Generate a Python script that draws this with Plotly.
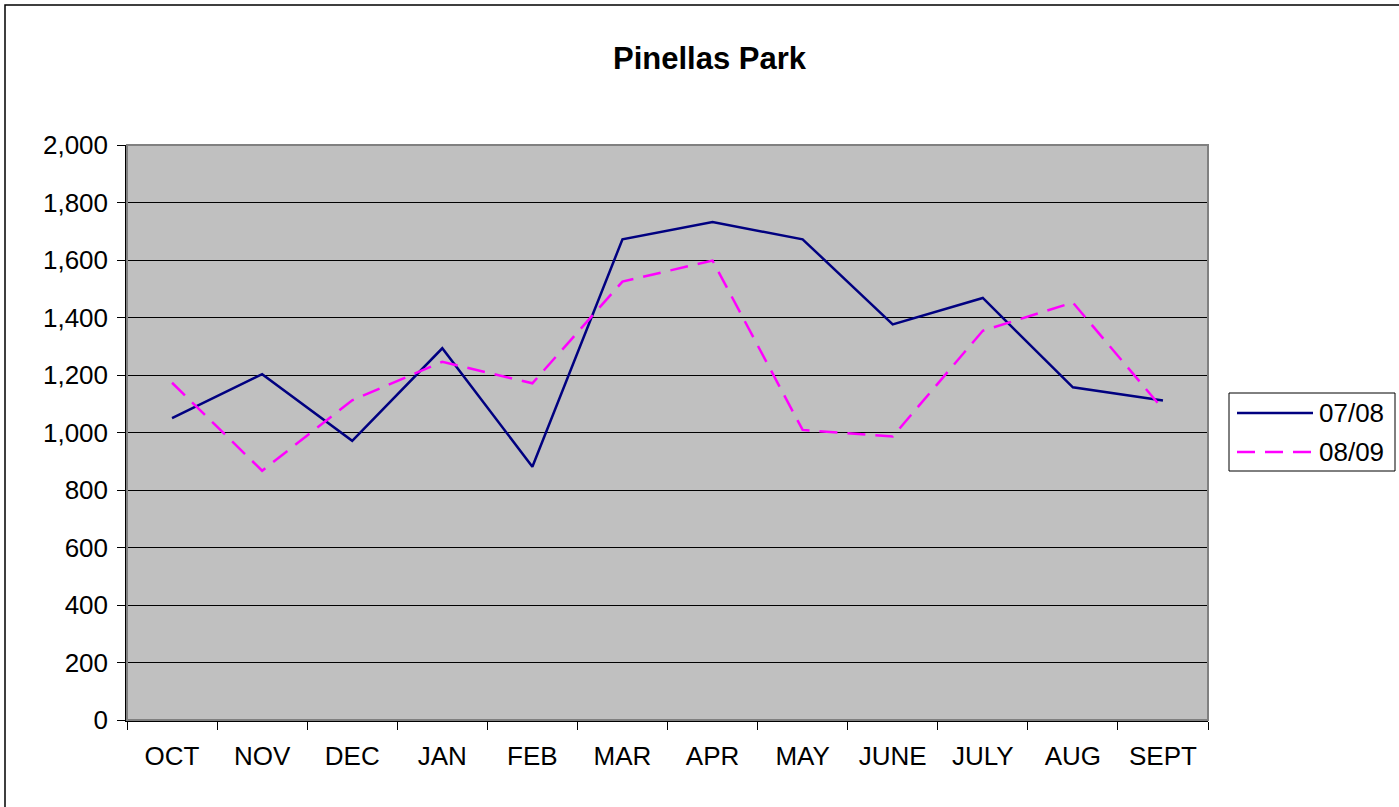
import plotly.graph_objects as go

months = ["OCT", "NOV", "DEC", "JAN", "FEB", "MAR", "APR", "MAY", "JUNE", "JULY", "AUG", "SEPT"]
series_names = ["07/08", "08/09"]
values_0708 = [1050, 1203, 971, 1293, 881, 1672, 1732, 1672, 1376, 1468, 1157, 1111]
values_0809 = [1173, 867, 1112, 1246, 1171, 1525, 1598, 1009, 986, 1354, 1452, 1081]
y_ticks = [0, 200, 400, 600, 800, 1000, 1200, 1400, 1600, 1800, 2000]

W, H = 1399, 807
L, R, T, B = 127, 1208, 145, 720
FONT = "Liberation Sans, Arial, sans-serif"

def px_x(p):
    return (p - L) / (R - L)

def px_y(p):
    return (B - p) / (B - T)

colors = ["#000080", "#FF00FF"]
dashes = ["solid", "18px,10px"]

fig = go.Figure()
for name, vals, c, d in zip(series_names, [values_0708, values_0809], colors, dashes):
    fig.add_trace(go.Scatter(x=months, y=vals, mode="lines", name=name,
                             line=dict(color=c, width=2.5, dash=d), showlegend=False))

shapes = []
# outer chart border (chart area extends past the crop)
shapes.append(dict(type="rect", xref="paper", yref="paper",
                   x0=px_x(5), x1=px_x(1440), y0=px_y(830), y1=px_y(5),
                   line=dict(color="#000000", width=1.5), layer="below"))
# plot area border
shapes.append(dict(type="rect", xref="paper", yref="paper", x0=0, x1=1, y0=0, y1=1,
                   line=dict(color="#808080", width=2), layer="above"))
# legend box
lx0, lx1, ly0, ly1 = 1229, 1395, 393, 471
shapes.append(dict(type="rect", xref="paper", yref="paper",
                   x0=px_x(lx0), x1=px_x(lx1), y0=px_y(ly1), y1=px_y(ly0),
                   line=dict(color="#000000", width=1), fillcolor="white", layer="above"))
annotations = []
for i, (name, c, d) in enumerate(zip(series_names, colors, dashes)):
    yy = 413 + i * 39
    shapes.append(dict(type="line", xref="paper", yref="paper",
                       x0=px_x(1237), x1=px_x(1313), y0=px_y(yy), y1=px_y(yy),
                       line=dict(color=c, width=2.5, dash=d), layer="above"))
    annotations.append(dict(xref="paper", yref="paper", x=px_x(1317), y=px_y(yy),
                            xanchor="left", yanchor="middle", text=name, showarrow=False,
                            font=dict(family=FONT, size=26, color="#000000")))

fig.update_layout(
    width=W, height=H,
    margin=dict(l=L, r=W - R, t=T, b=H - B, pad=0),
    paper_bgcolor="white", plot_bgcolor="#C0C0C0",
    title=dict(text="<b>Pinellas Park</b>", xref="container", yref="container",
               x=709.5 / W, y=1 - 58.5 / H, xanchor="center", yanchor="middle",
               font=dict(family=FONT, size=31, color="#000000")),
    font=dict(family=FONT, size=26, color="#000000"),
    shapes=shapes, annotations=annotations,
    showlegend=False,
)
fig.update_xaxes(type="category", categoryorder="array", categoryarray=months,
                 range=[-0.5, len(months) - 0.5], tickson="boundaries",
                 ticks="outside", ticklen=8, tickcolor="#000000", tickwidth=1,
                 showgrid=False, showline=True, linecolor="#000000", linewidth=1.5,
                 zeroline=False, ticklabelstandoff=12,
                 tickfont=dict(family=FONT, size=26, color="#000000"))
fig.update_yaxes(range=[0, 2000], tickvals=y_ticks, tickformat=",",
                 ticks="outside", ticklen=8, tickcolor="#000000", tickwidth=1,
                 showgrid=True, gridcolor="#000000", gridwidth=1,
                 showline=True, linecolor="#000000", linewidth=1.5,
                 zeroline=False, ticklabelstandoff=4,
                 tickfont=dict(family=FONT, size=26, color="#000000"))

fig.write_html("out.html", config={"displayModeBar": False},
               post_script="document.body.style.margin='0';document.body.style.overflow='hidden';")
